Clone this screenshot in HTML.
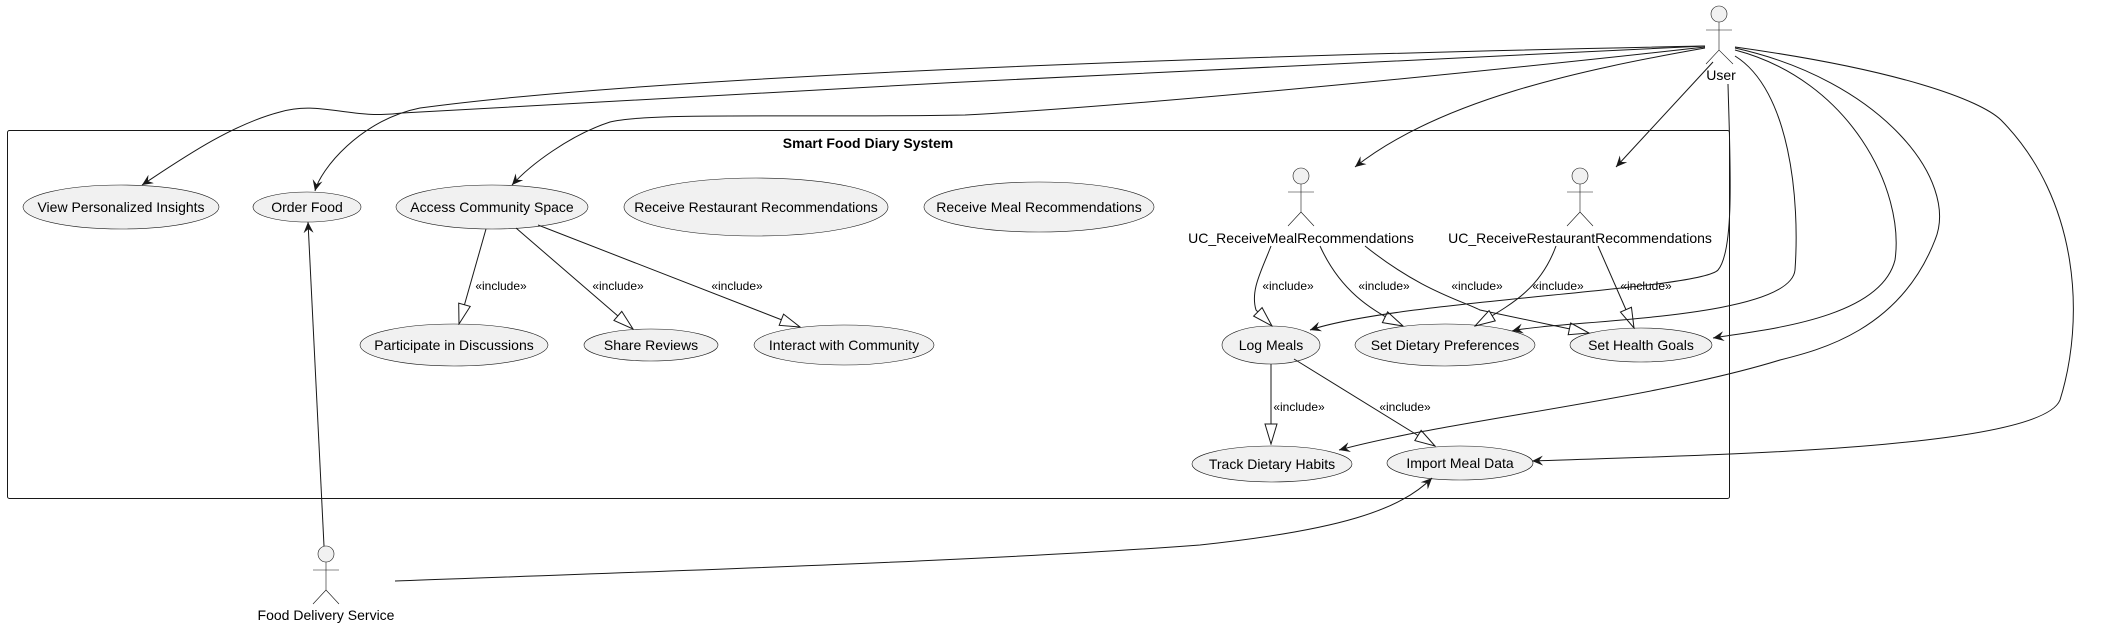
<!DOCTYPE html>
<html><head><meta charset="utf-8"><style>
body{margin:0;background:#fff}
svg{display:block}
text{font-family:"Liberation Sans",Arial,sans-serif;fill:#000}
.e{fill:#f1f1f1;stroke:#181818;stroke-width:0.6}
.l{fill:none;stroke:#181818;stroke-width:1}
.a{fill:#f1f1f1;stroke:#181818;stroke-width:0.6}
</style></head><body>
<svg width="2101" height="624" viewBox="0 0 2101 624" xmlns="http://www.w3.org/2000/svg">
<defs>
<marker id="ar" viewBox="0 0 12 10" refX="11" refY="5" markerWidth="12" markerHeight="10" orient="auto" markerUnits="userSpaceOnUse">
<path d="M0,0 L11,5 L0,10 L4,5 Z" fill="#181818"/>
</marker>
<marker id="tr" viewBox="0 0 22 14" refX="21" refY="7" markerWidth="22" markerHeight="14" orient="auto" markerUnits="userSpaceOnUse">
<path d="M1,1 L21,7 L1,13 Z" fill="#fff" stroke="#181818" stroke-width="1"/>
</marker>
</defs>

<rect x="7.5" y="130.5" width="1722" height="368" rx="2" fill="none" stroke="#181818" stroke-width="1"/>
<text x="868" y="148" font-size="14" font-weight="bold" text-anchor="middle">Smart Food Diary System</text>

<!-- ellipses -->
<ellipse class="e" cx="121" cy="207" rx="98" ry="22"/><text x="121" y="212" font-size="14" text-anchor="middle">View Personalized Insights</text>
<ellipse class="e" cx="307" cy="207" rx="54" ry="15"/><text x="307" y="212" font-size="14" text-anchor="middle">Order Food</text>
<ellipse class="e" cx="492" cy="207" rx="96" ry="22"/><text x="492" y="212" font-size="14" text-anchor="middle">Access Community Space</text>
<ellipse class="e" cx="756" cy="207" rx="132" ry="29"/><text x="756" y="212" font-size="14" text-anchor="middle">Receive Restaurant Recommendations</text>
<ellipse class="e" cx="1039" cy="207" rx="115" ry="25"/><text x="1039" y="212" font-size="14" text-anchor="middle">Receive Meal Recommendations</text>
<ellipse class="e" cx="454" cy="345" rx="94" ry="21"/><text x="454" y="350" font-size="14" text-anchor="middle">Participate in Discussions</text>
<ellipse class="e" cx="651" cy="345" rx="67" ry="16"/><text x="651" y="350" font-size="14" text-anchor="middle">Share Reviews</text>
<ellipse class="e" cx="844" cy="345" rx="90" ry="20"/><text x="844" y="350" font-size="14" text-anchor="middle">Interact with Community</text>
<ellipse class="e" cx="1271" cy="345" rx="49" ry="19"/><text x="1271" y="350" font-size="14" text-anchor="middle">Log Meals</text>
<ellipse class="e" cx="1445" cy="345" rx="90" ry="21"/><text x="1445" y="350" font-size="14" text-anchor="middle">Set Dietary Preferences</text>
<ellipse class="e" cx="1641" cy="345" rx="71" ry="17"/><text x="1641" y="350" font-size="14" text-anchor="middle">Set Health Goals</text>
<ellipse class="e" cx="1272" cy="464" rx="80" ry="18"/><text x="1272" y="469" font-size="14" text-anchor="middle">Track Dietary Habits</text>
<ellipse class="e" cx="1460" cy="463" rx="73" ry="17"/><text x="1460" y="468" font-size="14" text-anchor="middle">Import Meal Data</text>

<!-- actors -->
<g class="a">
<circle cx="1719" cy="14" r="8"/>
<path d="M1719,22 V50 M1706,30 H1732 M1706,64 L1719,50 L1733,64" fill="none"/>
<circle cx="1301" cy="176" r="8"/>
<path d="M1301,184 V212 M1288,192 H1314 M1288,226 L1301,212 L1314,226" fill="none"/>
<circle cx="1580" cy="176" r="8"/>
<path d="M1580,184 V212 M1567,192 H1593 M1567,226 L1580,212 L1593,226" fill="none"/>
<circle cx="326" cy="554" r="8"/>
<path d="M326,562 V590 M313,570 H339 M313,604 L326,590 L339,604" fill="none"/>
</g>
<text x="1721" y="80" font-size="14" text-anchor="middle">User</text>
<text x="1301" y="243" font-size="14" text-anchor="middle">UC_ReceiveMealRecommendations</text>
<text x="1580" y="243" font-size="14" text-anchor="middle">UC_ReceiveRestaurantRecommendations</text>
<text x="326" y="620" font-size="14" text-anchor="middle">Food Delivery Service</text>

<!-- include relations -->
<g class="l" marker-end="url(#tr)">
<path d="M486,229 L459,324"/>
<path d="M516,228 L633,329"/>
<path d="M538,225 L800,327"/>
<path d="M1271,246 C1262,270 1250,290 1256,310 L1272,326"/>
<path d="M1320,246 C1340,290 1370,310 1403,326"/>
<path d="M1365,246 C1420,290 1460,300 1480,310 L1589,333"/>
<path d="M1556,246 C1540,290 1510,305 1475,326"/>
<path d="M1598,246 L1634,328"/>
<path d="M1271,364 L1271,444"/>
<path d="M1294,359 L1435,446"/>
</g>
<g font-size="12">
<text x="501" y="290" text-anchor="middle">«include»</text>
<text x="618" y="290" text-anchor="middle">«include»</text>
<text x="737" y="290" text-anchor="middle">«include»</text>
<text x="1288" y="290" text-anchor="middle">«include»</text>
<text x="1384" y="290" text-anchor="middle">«include»</text>
<text x="1477" y="290" text-anchor="middle">«include»</text>
<text x="1558" y="290" text-anchor="middle">«include»</text>
<text x="1646" y="290" text-anchor="middle">«include»</text>
<text x="1299" y="411" text-anchor="middle">«include»</text>
<text x="1405" y="411" text-anchor="middle">«include»</text>
</g>

<!-- user associations -->
<g class="l" marker-end="url(#ar)">
<path d="M1705,46 C1400,52 700,70 420,108 C360,120 320,170 315,191"/>
<path d="M1705,46 C1400,58 800,90 402,113 C350,120 320,100 280,112 C230,125 180,160 142,185"/>
<path d="M1705,47 C1500,70 1150,105 965,115 C800,118 650,112 610,122 C570,135 530,165 512,185"/>
<path d="M1705,48 C1580,70 1440,100 1355,167"/>
<path d="M1713,62 L1616,167"/>
<path d="M1728,84 C1730,160 1735,250 1718,270 C1700,290 1400,300 1310,330"/>
<path d="M1735,56 C1790,90 1800,200 1795,270 C1790,320 1560,320 1512,331"/>
<path d="M1735,50 C1850,80 1905,190 1895,260 C1880,320 1760,330 1713,338"/>
<path d="M1735,48 C1880,80 1960,180 1935,240 C1900,330 1820,350 1780,360 C1650,400 1450,420 1339,450"/>
<path d="M1735,47 C1900,70 1980,100 2001,120 C2080,200 2085,320 2060,400 C2040,450 1700,455 1532,461"/>
</g>
<g class="l" marker-end="url(#ar)">
<path d="M324,546 L308,222"/>
<path d="M395,581 C700,570 1000,560 1200,545 C1340,530 1400,510 1432,478"/>
</g>
</svg>
</body></html>
